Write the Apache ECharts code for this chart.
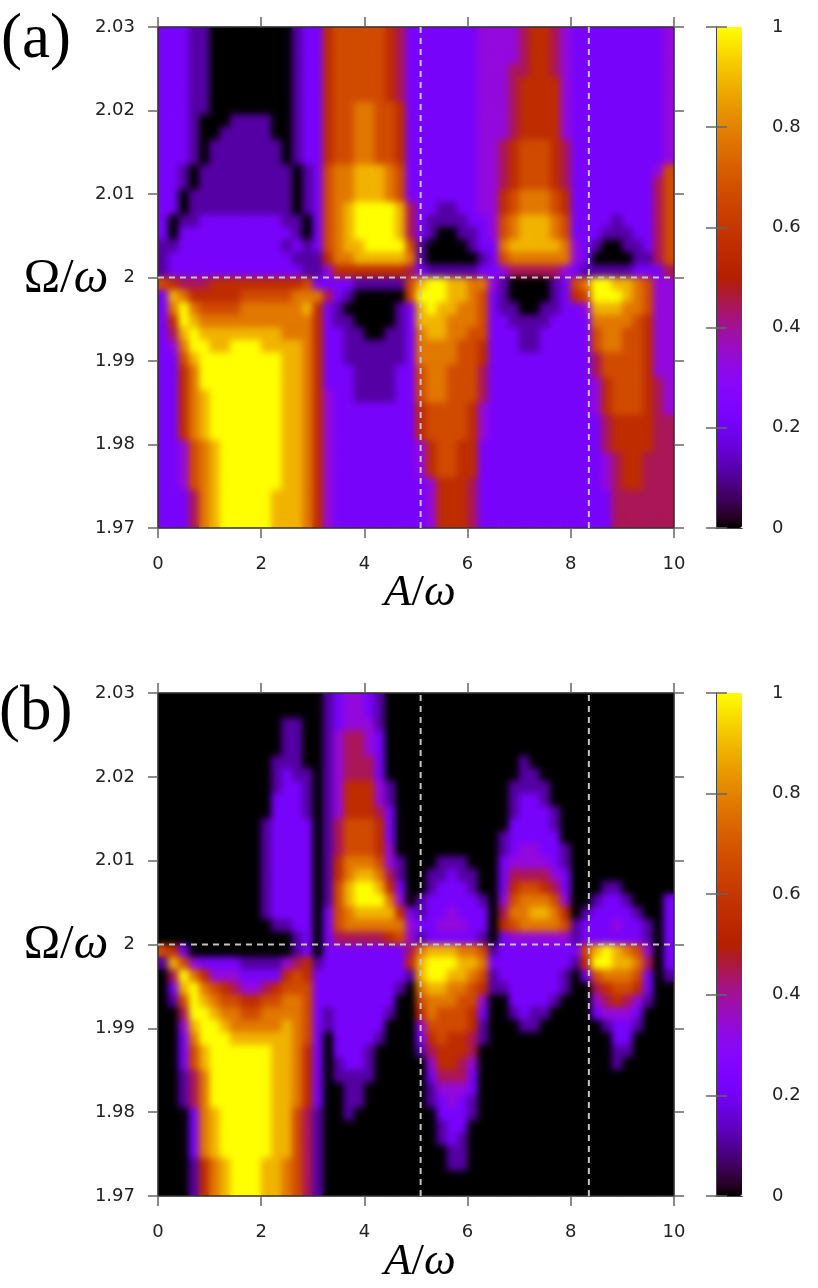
<!DOCTYPE html>
<html>
<head>
<meta charset="utf-8">
<script src="https://cdn.jsdelivr.net/npm/echarts@6/dist/echarts.min.js"></script>
<style>
  html, body { margin: 0; padding: 0; background: #fff; }
  #wrap { position: relative; width: 818px; height: 1288px; }
  .layer { position: absolute; left: 0; top: 0; width: 818px; height: 1288px; }
  /* softened copy of the heatmaps, kept inside the two plot frames */
  #blur { filter: blur(3.5px); clip-path: path('M159 28 H673 V527 H159 Z M159 694 H673 V1195 H159 Z'); }
</style>
</head>
<body>
<div id="wrap">
  <div id="base" class="layer"></div>
  <div id="blur" class="layer"></div>
  <div id="top" class="layer"></div>
</div>
<script>
// axis ticks
const xTicks = [0, 2, 4, 6, 8, 10];
const yMin = 1.97, yMax = 2.03, yStep = 0.01;
const cbTicks = [0, 0.2, 0.4, 0.6, 0.8, 1];

// dashed guide lines (A/w positions and Omega/w = 2)
const dashX = [5.09, 8.35];
const dashY = 2;

// heatmap cells: 50 columns over A/w 0..10, 40 rows over Omega/w 2.03 (first row) .. 1.97 (last row)
// each digit is a level 0..9, value = level / 9
const panelA = [
  '2221100000 0001225666 6654222222 2333345543 2222222223',
  '2221100000 0001225666 6654222222 2333345543 2222222223',
  '2221100000 0001225666 6654222222 2333345543 2222222223',
  '2221100000 0001225666 6654222222 2333445543 2222222223',
  '2221100000 0001225666 6654222222 2333455553 2222222223',
  '2221100000 0001225666 6654222222 2333455553 2222222223',
  '2221100000 0001225667 7665222222 2333455553 2222222223',
  '2221000111 1001225667 7665222222 2333455553 2222222223',
  '2221001111 1001225667 7665222222 2333455553 2222222223',
  '2221011111 1101225667 7665222222 2334566654 2222222223',
  '2221011111 1101225667 7665222222 2334566654 2222222223',
  '2210111111 1110126778 8876222222 2334566654 2222222236',
  '2210111111 1110126778 8876222222 2334566654 2222222246',
  '2201111111 1110126778 8876222222 2335677765 2222222246',
  '2201111111 1110126789 9998422112 2335677765 2222222246',
  '2011222222 2211026789 9998421111 2236788876 2222122246',
  '2022222222 2221026789 9998421001 1236788876 2221112246',
  '1122222222 2212126788 9999610000 1227888887 3210011246',
  '1222222222 2221115778 8888710000 0126777777 3200001146',
  '1222222222 2222113555 5555421111 1223444443 2111112224',
  '6544455555 5555622221 1111689988 7731000012 6799887633',
  '2875555566 6667774210 0000699988 7621000012 5699987633',
  '2797666677 7777852100 0001289887 7621100112 2388877633',
  '2598777777 7777752110 0001288877 7622111122 2277776533',
  '2489888888 8877752211 0011278877 6622211222 2267766533',
  '2379988999 8888752211 1111277776 6522211222 2267766533',
  '2268999999 9988752211 1111277776 6522222222 2246666533',
  '2257999999 9988752221 1112267766 6422222222 2246666533',
  '2257999999 9988752221 1112267766 6422222222 2235666543',
  '2257899999 9988753221 1112267766 6422222222 2235666543',
  '2257899999 9988753222 2222256666 5322222222 2235666543',
  '2257899999 9988753222 2222256666 5322222222 2224555544',
  '2257899999 9988753222 2222256666 5322222222 2224555544',
  '2236789999 9988753222 2222235665 5222222222 2224555544',
  '2236789999 9988753222 2222235665 5222222222 2223455444',
  '2236789999 9988753222 2222235665 5222222222 2223455444',
  '2236789999 9988753222 2222223555 4222222222 2223455444',
  '2224789999 9888753222 2222223555 4222222222 2222444444',
  '2224789999 9888753222 2222223555 4222222222 2222444444',
  '2224789999 9888753222 2222223555 4222222222 2222444444'
];

const panelB = [
  '0000000000 0000001233 2100000000 0000000000 0000000000',
  '0000000000 0000001233 2100000000 0000000000 0000000000',
  '0000000000 0011001233 3100000000 0000000000 0000000000',
  '0000000000 0011001344 3200000000 0000000000 0000000000',
  '0000000000 0011001344 3200000000 0000000000 0000000000',
  '0000000000 0111001344 4200000000 0000010000 0000000000',
  '0000000000 0121101344 4200000000 0000011000 0000000000',
  '0000000000 0122101355 5310000000 0000111100 0000000000',
  '0000000000 0222101355 5310000000 0000122100 0000000000',
  '0000000000 0222101355 5420000000 0000122210 0000000000',
  '0000000000 1222201466 6520000000 0000222210 0000000000',
  '0000000000 1222201466 6520000000 0001222220 0000000000',
  '0000000000 1222201466 6530000000 0001233221 0000000000',
  '0000000000 1222201577 7631000111 0002333321 0000000000',
  '0000000000 1222201578 8741001121 1002444432 0000000000',
  '0000000000 1222201689 9852001222 1002566542 0001100000',
  '0000000000 1222201689 9973012222 2103677763 0012210002',
  '0000000000 1222202678 8885212232 2204778875 0122221002',
  '0000000000 0112202677 7777322333 2205677776 1222322102',
  '0000000000 0001202444 4456312222 2102333333 1222222102',
  '6520000000 0001202222 2222478887 7612222222 2689876302',
  '1863222211 1134512222 2222589998 8722222222 1599887402',
  '0497533322 2256522222 2222189988 7612222221 0267776201',
  '0289765433 4566622222 2221078877 6511222221 0045665200',
  '0169876655 6677622222 2220067776 6300222210 0034543100',
  '0049987766 7777621222 2210057666 5200121100 0023332000',
  '0038998777 7787621222 2200036666 5100011000 0001221000',
  '0027999888 8887620222 2100025655 4100000000 0000220000',
  '0026899999 9887520222 1000014555 4000000000 0000110000',
  '0026899999 9887520122 1000003554 3000000000 0000100000',
  '0014799999 9887520111 1000002444 2000000000 0000000000',
  '0014799999 9887520011 0000001333 2000000000 0000000000',
  '0014799999 9887520011 0000001232 1000000000 0000000000',
  '0002789999 9886410010 0000000222 1000000000 0000000000',
  '0002789999 9886410000 0000000122 0000000000 0000000000',
  '0002789999 9886410000 0000000121 0000000000 0000000000',
  '0002789999 9886410000 0000000011 0000000000 0000000000',
  '0001578999 8876410000 0000000011 0000000000 0000000000',
  '0001578999 8876410000 0000000000 0000000000 0000000000',
  '0001578999 8876410000 0000000000 0000000000 0000000000'
];

const nCols = 50, nRows = 40;
const xCats = Array.from({ length: nCols }, (_, i) => (0.1 + 0.2 * i).toFixed(1));
const yCats = Array.from({ length: nRows }, (_, i) => (yMin + 0.00075 + 0.0015 * i).toFixed(5));

function toCells(rows) {
  const out = [];
  rows.forEach((row, r) => {
    const s = row.replace(/ /g, '');
    for (let c = 0; c < s.length; c++) out.push([c, nRows - 1 - r, +s[c] / 9]);
  });
  return out;
}

// gnuplot default pm3d palette (rgbformulae 7,5,15)
function gnuplotColor(t) {
  const r = Math.sqrt(t), g = t * t * t, b = Math.max(0, Math.sin(2 * Math.PI * t));
  const h = v => Math.round(Math.min(1, v) * 255).toString(16).padStart(2, '0');
  return '#' + h(r) + h(g) + h(b);
}
const palette = Array.from({ length: 65 }, (_, i) => gnuplotColor(i / 64));

const plots = [
  { left: 158, top: 27, width: 516, height: 501 },
  { left: 158, top: 693, width: 516, height: 503 }
];
const bars = [
  { left: 716, top: 27, width: 26, height: 501 },
  { left: 716, top: 693, width: 26, height: 503 }
];

const lineSt = { color: '#333', width: 1.5 };
const tickSt = { color: '#666', width: 1.5 };
const labelSt = { fontFamily: 'DejaVu Sans', fontSize: 18, color: '#222' };

// heatmap pieces shared by the crisp and the softened layer
function heatParts(showBar) {
  const xAxis = [], yAxis = [], series = [];
  plots.forEach((p, k) => {
    xAxis.push({ type: 'category', gridIndex: k, data: xCats, show: false, position: 'bottom' });
    yAxis.push({ type: 'category', gridIndex: k, data: yCats, show: false, position: 'left' });
  });
  [panelA, panelB].forEach((rows, k) => series.push({
    type: 'heatmap', xAxisIndex: k, yAxisIndex: k, data: toCells(rows),
    progressive: 0, silent: true, emphasis: { disabled: true }
  }));
  const visualMap = bars.map((b, k) => ({
    type: 'continuous', seriesIndex: k, min: 0, max: 1, calculable: false, hoverLink: false, show: showBar,
    left: b.left, top: b.top, itemWidth: b.width, itemHeight: b.height, padding: 0,
    inRange: { color: palette }, textStyle: { color: 'transparent' }
  }));
  return { xAxis, yAxis, series, visualMap };
}

// ---- base layer: crisp heatmaps, axes, colour bars, labels
const base = heatParts(true);
plots.forEach((p, k) => {
  base.xAxis.push({ type: 'value', gridIndex: k, position: 'bottom', min: 0, max: 10, interval: 2, z: 10,
    axisLine: { lineStyle: lineSt }, axisTick: { length: 10, lineStyle: tickSt },
    axisLabel: Object.assign({ margin: 27 }, labelSt), splitLine: { show: false } });
  base.xAxis.push({ type: 'value', gridIndex: k, position: 'top', min: 0, max: 10, interval: 2, z: 10,
    axisLine: { lineStyle: lineSt }, axisTick: { length: 10, lineStyle: tickSt },
    axisLabel: { show: false }, splitLine: { show: false } });
  base.yAxis.push({ type: 'value', gridIndex: k, position: 'left', min: yMin, max: yMax, interval: yStep, z: 10,
    axisLine: { lineStyle: lineSt }, axisTick: { length: 10, lineStyle: tickSt },
    axisLabel: Object.assign({ margin: 23 }, labelSt), splitLine: { show: false } });
  base.yAxis.push({ type: 'value', gridIndex: k, position: 'right', min: yMin, max: yMax, interval: yStep, z: 10,
    axisLine: { lineStyle: lineSt }, axisTick: { length: 10, lineStyle: tickSt },
    axisLabel: { show: false }, splitLine: { show: false } });
});
bars.forEach((b, k) => {
  const g = 2 + k;
  ['bottom', 'top'].forEach(pos => base.xAxis.push({ type: 'value', gridIndex: g, position: pos, min: 0, max: 1, z: 10,
    axisLine: { lineStyle: { color: '#444', width: 1 } }, axisTick: { show: false },
    axisLabel: { show: false }, splitLine: { show: false } }));
  base.yAxis.push({ type: 'value', gridIndex: g, position: 'left', min: 0, max: 1, interval: 0.2, z: 10,
    axisLine: { lineStyle: { color: '#444', width: 1 } }, axisTick: { length: 10, lineStyle: tickSt },
    axisLabel: { show: false }, splitLine: { show: false } });
  base.yAxis.push({ type: 'value', gridIndex: g, position: 'right', min: 0, max: 1, interval: 0.2, z: 10,
    axisLine: { lineStyle: { color: '#444', width: 1 } }, axisTick: { length: 11, lineStyle: tickSt },
    axisLabel: Object.assign({ margin: 30 }, labelSt), splitLine: { show: false } });
});

const serif = 'Liberation Serif';
function mathText(x, y, parts, size) {
  return { type: 'text', x: x, y: y, style: {
    text: parts, align: 'center', verticalAlign: 'middle', fill: '#000',
    rich: {
      u: { fontFamily: serif, fontSize: size, fill: '#000' },
      i: { fontFamily: serif, fontSize: size, fontStyle: 'italic', fill: '#000' }
    }
  } };
}

echarts.init(document.getElementById('base')).setOption({
  animation: false,
  backgroundColor: '#fff',
  grid: plots.concat(bars).map(g => Object.assign({ containLabel: false }, g)),
  xAxis: base.xAxis, yAxis: base.yAxis, visualMap: base.visualMap, series: base.series,
  graphic: [
    { type: 'text', x: 1, y: 40, style: { text: '(a)', font: '63px "Liberation Serif"', fill: '#000', align: 'left', verticalAlign: 'middle' } },
    { type: 'text', x: -1, y: 712, style: { text: '(b)', font: '63px "Liberation Serif"', fill: '#000', align: 'left', verticalAlign: 'middle' } },
    mathText(66, 279, '{u|Ω/}{i|ω}', 49),
    mathText(66, 945, '{u|Ω/}{i|ω}', 49),
    mathText(420, 593, '{i|A}{u|/}{i|ω}', 45),
    mathText(420, 1262, '{i|A}{u|/}{i|ω}', 45)
  ]
});

// ---- softened layer: same heatmaps, blurred by CSS and clipped to the frames
const soft = heatParts(false);
echarts.init(document.getElementById('blur')).setOption({
  animation: false,
  grid: plots.map(g => Object.assign({ containLabel: false }, g)),
  xAxis: soft.xAxis, yAxis: soft.yAxis, visualMap: soft.visualMap, series: soft.series
});

// ---- top layer: dashed guide lines
const topSeries = [];
const dashStyle = { color: '#c4c4c4', width: 2, type: [6, 5] };
plots.forEach((p, k) => {
  topSeries.push({ type: 'line', xAxisIndex: k, yAxisIndex: k, symbol: 'none', silent: true,
    lineStyle: dashStyle, data: [[0, dashY], [10, dashY]] });
  dashX.forEach(x => topSeries.push({ type: 'line', xAxisIndex: k, yAxisIndex: k, symbol: 'none', silent: true,
    lineStyle: dashStyle, data: [[x, yMin], [x, yMax]] }));
});
echarts.init(document.getElementById('top')).setOption({
  animation: false,
  grid: plots.map(g => Object.assign({ containLabel: false }, g)),
  xAxis: plots.map((p, k) => ({ type: 'value', gridIndex: k, min: 0, max: 10, show: false })),
  yAxis: plots.map((p, k) => ({ type: 'value', gridIndex: k, min: yMin, max: yMax, show: false })),
  series: topSeries
});
</script>
</body>
</html>
